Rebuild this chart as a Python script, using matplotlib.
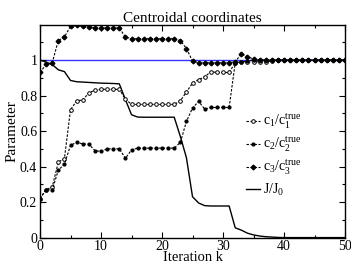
import numpy as np
import matplotlib
matplotlib.use("Agg")
import matplotlib.pyplot as plt

plt.rcParams["font.family"] = ["Liberation Serif", "DejaVu Serif"]
plt.rcParams["mathtext.fontset"] = "custom"
plt.rcParams["mathtext.rm"] = "Liberation Serif"
plt.rcParams["mathtext.it"] = "Liberation Serif:italic"

# Iterations 0..50
iterations = list(range(51))

c1 = [0.22, 0.27, 0.285, 0.425, 0.445, 0.72, 0.77, 0.775, 0.815, 0.83,
      0.835, 0.835, 0.835, 0.835, 0.78, 0.75, 0.75, 0.75, 0.75, 0.75,
      0.75, 0.75, 0.75, 0.77, 0.82, 0.87, 0.89, 0.905, 0.935, 0.93,
      0.93, 0.93, 0.985, 0.99, 0.99, 0.99, 0.99, 0.99, 0.995, 1.0,
      1.0, 1.0, 1.0, 1.0, 1.0, 1.0, 1.0, 1.0, 1.0, 1.0, 1.0]

c2 = [0.22, 0.27, 0.268, 0.38, 0.413, 0.52, 0.536, 0.528, 0.526, 0.49,
      0.485, 0.5, 0.5, 0.5, 0.447, 0.494, 0.504, 0.504, 0.504, 0.504,
      0.504, 0.504, 0.504, 0.536, 0.654, 0.73, 0.767, 0.724, 0.733, 0.733,
      0.733, 0.733, 0.984, 0.99, 0.995, 1.0, 1.0, 1.0, 1.0, 1.0,
      1.0, 1.0, 1.0, 1.0, 1.0, 1.0, 1.0, 1.0, 1.0, 1.0, 1.0]

c3 = [0.93, 0.975, 0.985, 1.11, 1.13, 1.19, 1.195, 1.19, 1.185, 1.18,
      1.18, 1.18, 1.18, 1.18, 1.13, 1.12, 1.12, 1.12, 1.12, 1.12,
      1.12, 1.12, 1.12, 1.11, 1.065, 0.995, 0.985, 0.985, 0.985, 0.985,
      0.985, 0.985, 0.99, 1.035, 1.02, 1.005, 1.0, 1.0, 1.0, 1.0,
      1.0, 1.0, 1.0, 1.0, 1.0, 1.0, 1.0, 1.0, 1.0, 1.0, 1.0]

J = [1.0, 0.988, 0.975, 0.945, 0.935, 0.885, 0.878, 0.876, 0.874, 0.872,
     0.87, 0.869, 0.868, 0.866, 0.777, 0.692, 0.679, 0.678, 0.678, 0.678,
     0.678, 0.678, 0.678, 0.57, 0.45, 0.23, 0.195, 0.18, 0.178, 0.178,
     0.178, 0.178, 0.055, 0.042, 0.025, 0.015, 0.009, 0.005, 0.003, 0.001,
     0.0, 0.0, 0.0, 0.0, 0.0, 0.0, 0.0, 0.0, 0.0, 0.0, 0.0]

fig = plt.figure(figsize=(3.51, 2.64), dpi=100)
ax = fig.add_axes([0.114, 0.100, 0.869, 0.807])

ax.axhline(1.0, color="#3535ff", lw=1.0, zorder=1)

dash = (0, (2.2, 1.4))
ax.plot(iterations, c1, color="black", lw=0.8, linestyle=dash, marker="o",
        ms=2.6, mfc="white", mew=0.7, label=r"$\mathrm{c_1/c_1^{true}}$", zorder=3)
ax.plot(iterations, c2, color="black", lw=0.8, linestyle=dash, marker="o",
        ms=2.0, label=r"$\mathrm{c_2/c_2^{true}}$", zorder=3)
ax.plot(iterations, c3, color="black", lw=0.8, linestyle=dash, marker="D",
        ms=2.4, label=r"$\mathrm{c_3/c_3^{true}}$", zorder=3)
ax.plot(iterations, J, color="black", lw=1.0, label=r"$\mathrm{J/J_0}$", zorder=2)

ax.set_xlim(0, 50)
ax.set_ylim(0, 1.2)
ax.set_xticks([0, 10, 20, 30, 40, 50])
ax.set_xticks([5, 15, 25, 35, 45], minor=True)
ax.set_yticks([0, 0.2, 0.4, 0.6, 0.8, 1.0])
ax.set_yticklabels(["0", "0.2", "0.4", "0.6", "0.8", "1"])
ax.set_yticks([0.1, 0.3, 0.5, 0.7, 0.9, 1.1], minor=True)
ax.tick_params(which="both", direction="in", top=True, right=True,
               labelsize=10, width=0.8, pad=2)
ax.tick_params(axis="x", pad=1.5)
ax.tick_params(which="major", length=4)
ax.tick_params(which="minor", length=2.2)
for s in ax.spines.values():
    s.set_linewidth(1.0)

ax.set_title("Centroidal coordinates", fontsize=11, pad=2)
ax.set_xlabel("Iteration k", fontsize=10.5, labelpad=-1.5)
ax.set_ylabel("Parameter", fontsize=11, labelpad=1)

ax.legend(loc="upper left", bbox_to_anchor=(0.645, 0.635), frameon=False,
          fontsize=10, handlelength=0.95, handletextpad=0.25,
          labelspacing=0.3, borderpad=0.2)

fig.savefig("out.png", dpi=100)
